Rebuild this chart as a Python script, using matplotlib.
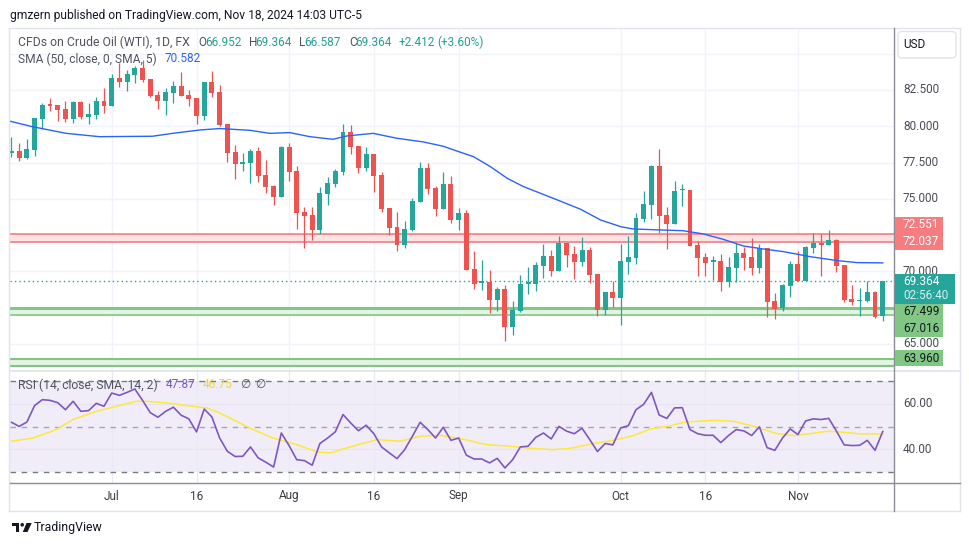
import numpy as np
import matplotlib
matplotlib.use("Agg")
import matplotlib.pyplot as plt
from matplotlib.transforms import Affine2D, blended_transform_factory
from matplotlib.patches import Rectangle, FancyBboxPatch, Polygon, Circle

# ---------------- data ----------------
start_date = "2024-06-12"
opens = [78.14, 78.32, 77.84, 78.37, 80.50, 81.47, 81.47, 81.17, 80.53, 81.67,
         80.66, 80.80, 81.74, 81.42, 83.33, 83.07, 83.56, 84.02, 83.26, 82.16,
         81.77, 82.32, 82.78, 82.16, 81.95, 80.73, 83.05, 82.36, 80.16, 78.21,
         77.43, 77.45, 78.30, 76.64, 75.88, 75.15, 78.57, 76.92, 74.07, 73.89,
         72.85, 75.33, 76.02, 76.87, 79.61, 78.64, 77.12, 78.09, 76.64, 74.37,
         73.06, 71.82, 72.85, 74.81, 77.12, 75.75, 74.30, 76.02, 73.54, 74.02,
         70.16, 69.22, 69.29, 68.03, 68.78, 66.17, 67.27, 69.15, 69.13, 70.37,
         71.06, 70.03, 71.96, 71.20, 70.65, 71.47, 69.82, 67.34, 68.58, 68.17,
         70.65, 70.92, 73.61, 74.57, 77.26, 73.89, 73.26, 75.58, 75.61, 71.82,
         70.99, 70.67, 70.72, 69.27, 70.23, 71.27, 70.99, 70.23, 71.61, 67.96,
         67.48, 68.99, 70.51, 69.34, 71.61, 71.96, 71.82, 72.16, 70.44, 68.10,
         67.96, 67.96, 68.58, 66.952]
highs = [79.28, 78.83, 79.12, 80.59, 81.58, 81.93, 81.47, 81.74, 81.74, 81.74,
         81.60, 82.02, 82.66, 83.60, 84.36, 83.86, 84.17, 84.59, 83.26, 82.43,
         82.62, 83.12, 83.72, 82.50, 81.95, 83.05, 83.83, 82.84, 80.16, 78.71,
         78.14, 78.43, 78.60, 77.68, 75.95, 78.64, 78.87, 77.26, 74.46, 74.46,
         75.84, 76.53, 77.06, 80.16, 80.09, 78.64, 78.57, 78.09, 76.87, 74.37,
         74.11, 73.47, 75.06, 77.54, 77.47, 75.86, 76.85, 76.57, 74.37, 74.25,
         71.40, 70.78, 70.09, 68.95, 69.06, 67.96, 69.75, 70.30, 70.65, 71.89,
         71.47, 72.44, 71.96, 71.75, 72.37, 71.68, 69.82, 68.58, 69.34, 71.89,
         72.44, 74.02, 75.54, 77.33, 78.43, 74.44, 76.23, 76.02, 75.61, 72.09,
         71.27, 71.06, 71.20, 70.99, 71.96, 71.68, 72.30, 71.89, 71.61, 68.51,
         69.13, 70.71, 71.40, 71.75, 72.64, 72.58, 72.85, 72.23, 70.44, 69.06,
         68.85, 69.34, 68.65, 69.364]
lows = [77.86, 77.63, 77.72, 77.95, 79.79, 81.05, 80.39, 80.27, 80.25, 80.48,
        80.18, 80.53, 80.94, 81.42, 82.73, 82.45, 83.01, 83.05, 82.04, 81.19,
        80.78, 81.63, 82.11, 81.40, 80.18, 80.43, 82.04, 80.04, 77.56, 76.39,
        76.94, 76.07, 76.18, 75.38, 74.57, 75.15, 76.25, 72.92, 71.63, 72.16,
        72.58, 74.57, 75.84, 76.64, 78.09, 76.78, 76.94, 75.49, 74.09, 72.51,
        71.43, 71.59, 72.76, 74.81, 75.33, 73.82, 74.30, 73.36, 72.85, 70.09,
        68.81, 68.72, 67.13, 67.27, 65.20, 65.61, 67.20, 68.44, 68.65, 69.54,
        69.68, 70.03, 70.30, 69.47, 70.37, 69.20, 66.92, 66.99, 67.54, 66.30,
        69.82, 70.51, 73.40, 73.61, 72.64, 71.54, 73.26, 74.50, 71.75, 69.68,
        69.68, 69.40, 68.65, 68.92, 69.27, 70.09, 69.75, 69.89, 66.86, 66.72,
        67.27, 68.23, 69.34, 69.34, 71.27, 69.68, 71.82, 69.96, 67.89, 67.68,
        66.92, 67.89, 66.79, 66.587]
closes = [78.32, 77.84, 78.43, 80.55, 81.47, 81.42, 81.12, 80.53, 81.67, 80.64,
          80.85, 81.74, 81.42, 83.33, 83.07, 83.60, 84.02, 83.19, 82.11, 81.77,
          82.36, 82.78, 82.11, 81.90, 80.73, 83.05, 82.32, 80.09, 78.18, 77.42,
          77.45, 78.30, 76.60, 75.84, 75.15, 78.57, 76.87, 74.05, 73.82, 72.85,
          75.40, 76.09, 76.92, 79.61, 78.60, 77.12, 78.09, 76.60, 74.28, 73.01,
          71.82, 72.92, 74.85, 77.12, 75.68, 74.30, 76.02, 73.56, 74.02, 70.09,
          69.15, 69.26, 68.03, 68.78, 66.17, 67.34, 69.13, 69.19, 70.44, 71.06,
          70.03, 71.96, 71.13, 70.65, 71.47, 69.75, 67.34, 68.58, 68.17, 70.71,
          70.99, 73.68, 74.64, 77.26, 73.82, 73.26, 75.54, 75.61, 71.75, 70.92,
          70.58, 70.70, 69.27, 70.30, 71.27, 70.92, 70.23, 71.61, 67.89, 67.41,
          69.06, 70.51, 69.34, 71.68, 71.96, 71.82, 72.16, 70.37, 68.03, 67.89,
          67.99, 68.58, 66.86, 69.364]

sma_x = [-0.3, 2.7, 7.1, 11.4, 18.3, 20.9, 24.4, 27.0, 30.9, 33.5, 36.1, 38.7,
         41.7, 43.5, 46.9, 50.0, 53.4, 56.0, 58.6, 59.9, 62.1, 64.3, 66.4, 68.6,
         70.8, 73.8, 76.4, 79.0, 80.6, 84.2, 87.1, 89.7, 92.3, 94.9, 97.5, 100.1,
         103.6, 107.1, 109.7, 113.0]
sma_v = [80.36, 79.97, 79.51, 79.28, 79.31, 79.51, 79.74, 79.84, 79.72, 79.51,
         79.56, 79.28, 79.10, 79.33, 79.51, 79.17, 78.92, 78.62, 78.14, 77.91,
         77.22, 76.41, 75.84, 75.38, 74.92, 74.28, 73.54, 73.08, 72.92, 72.85,
         72.80, 72.58, 72.21, 71.75, 71.54, 71.36, 71.01, 70.74, 70.60, 70.582]

rsi = [51.9, 50.1, 52.0, 59.2, 61.8, 61.5, 60.5, 57.4, 61.1, 56.7,
       57.0, 60.2, 58.9, 64.7, 63.7, 65.0, 66.5, 61.5, 56.1, 54.1,
       56.7, 58.5, 55.0, 53.4, 47.7, 57.7, 54.2, 45.0, 39.2, 36.9,
       37.0, 41.1, 36.3, 34.4, 32.3, 47.2, 41.7, 35.5, 35.1, 33.1,
       42.6, 45.0, 47.7, 55.3, 51.6, 48.2, 50.6, 46.9, 41.1, 38.5,
       36.0, 39.9, 45.8, 51.9, 48.7, 45.0, 49.7, 44.0, 45.0, 37.5,
       35.8, 35.8, 34.1, 36.1, 31.9, 35.5, 41.1, 41.4, 45.3, 47.2,
       44.6, 50.1, 48.0, 46.9, 49.3, 44.3, 39.1, 42.6, 42.0, 49.4,
       50.4, 57.4, 59.8, 65.0, 55.1, 53.6, 58.2, 58.3, 48.7, 46.9,
       46.2, 46.2, 43.0, 46.1, 48.7, 48.1, 46.1, 49.9, 40.8, 39.6,
       45.0, 49.0, 46.5, 52.5, 53.4, 53.1, 53.6, 48.0, 42.0, 41.7,
       41.8, 44.0, 39.6, 47.87]
rsi_sma_x = [0, 2.8, 5.8, 8, 11, 13.6, 16.2, 17.5, 21, 22.7, 25.3, 27, 30.9,
             33.9, 37.4, 39.6, 41.3, 43.9, 47.4, 50.4, 53, 55.6, 58.2, 61.6,
             64.7, 67.7, 70.3, 72.5, 75.5, 78.1, 80.7, 82.9, 85.5, 87.2, 91.1,
             93.7, 96.3, 99.3, 101.5, 103.6, 105.8, 108, 110.1, 113]
rsi_sma_v = [43.6, 45.0, 48.7, 53.1, 56.7, 58.9, 61.1, 61.1, 60.1, 59.2, 58.2,
             56.0, 49.4, 45.0, 41.7, 38.9, 38.5, 41.1, 44.3, 43.6, 45.8, 46.2,
             44.8, 42.1, 41.4, 40.4, 39.9, 40.5, 42.6, 44.0, 46.1, 49.0, 50.4,
             51.9, 52.8, 52.3, 50.1, 46.9, 46.1, 46.9, 48.0, 47.5, 46.8, 46.75]

tick_dates = ["2024-07-01", "2024-07-16", "2024-08-01", "2024-08-16",
              "2024-09-02", "2024-10-01", "2024-10-16", "2024-11-01"]
tick_labels = ["Jul", "16", "Aug", "16", "Sep", "Oct", "16", "Nov"]
price_ticks = [65.0, 67.5, 70.0, 72.5, 75.0, 77.5, 80.0, 82.5, 85.0]
rsi_ticks = [40.0, 60.0]
red_band = (72.037, 72.551)
green_band = (67.016, 67.499)
low_band = (63.46, 63.96)
last_close = 69.364
timer_text = "02:56:40"

# ---------------- figure ----------------
W, H = 970, 545
plt.rcParams["font.family"] = ["Roboto", "DejaVu Sans"]
fig = plt.figure(figsize=(W / 100, H / 100), dpi=100)
fig.patch.set_facecolor("white")
pix = Affine2D().scale(1 / W, -1 / H).translate(0, 1) + fig.transFigure

UP, DOWN = "#26a69a", "#ef5350"
GRID = "#f0f3fa"
TXT = "#131722"
GRAY = "#50535e"

ax = fig.add_axes([10 / W, 1 - 370 / H, 884 / W, 342 / H])
ax2 = fig.add_axes([10 / W, 1 - 483 / H, 884 / W, 113 / H])
for a in (ax, ax2):
    a.set_xlim(-0.19, 114.46)
    a.set_xticks([])
    a.set_yticks([])
    for s in a.spines.values():
        s.set_visible(False)
    a.patch.set_alpha(0)
ax.set_ylim(63.2, 86.77)
ax2.set_ylim(25.3, 74.8)

n = len(closes)
dates = np.busday_offset(np.datetime64(start_date), np.arange(n), roll="forward")
tick_pos = [int(np.searchsorted(dates, np.datetime64(d))) for d in tick_dates]

# grid
for p in price_ticks:
    ax.axhline(p, color=GRID, lw=1, zorder=0)
for t in tick_pos:
    ax.axvline(t, color=GRID, lw=1, zorder=0)

# bands
ax.axhspan(*red_band, color="#fde3e4", lw=0, zorder=1)
for v in red_band:
    ax.axhline(v, color="#f77c80", lw=1.2, zorder=1.5)
ax.axhspan(*green_band, color="#e3f3e4", lw=0, zorder=1)
ax.axhline(green_band[1], color="#81c784", lw=2.2, zorder=1.5)
ax.axhline(green_band[0], color="#81c784", lw=1.2, zorder=1.5)
ax.axhspan(*low_band, color="#e3f3e4", lw=0, zorder=1)
for v in low_band:
    ax.axhline(v, color="#81c784", lw=1.5, zorder=1.5)

# last price dotted line
ax.axhline(last_close, color=UP, lw=1, ls=(0, (1, 2.2)), zorder=2)

# candles
x = np.arange(n)
o, hi, lo, c = map(np.array, (opens, highs, lows, closes))
up = c >= o
cols = np.where(up, UP, DOWN)
ax.vlines(x, lo, hi, colors=cols, lw=0.9, zorder=3)
body = np.maximum(np.abs(c - o), 0.09)
ax.bar(x, body, bottom=np.minimum(o, c), width=0.64, color=cols, lw=0, zorder=4)

# SMA
ax.plot(sma_x, sma_v, color="#2962ff", lw=1.0, zorder=5)

# RSI pane
ax2.axhspan(30, 70, color="#7e57c2", alpha=0.1, lw=0, zorder=0)
for r in rsi_ticks:
    ax2.axhline(r, color="#e8e3f4", lw=1, zorder=0.5)
for t in tick_pos:
    ax2.axvline(t, color="#ebe7f5", lw=1, zorder=0.5)
ax2.axhline(70, color="#787b86", lw=1, ls=(0, (4, 4)), zorder=1)
ax2.axhline(30, color="#787b86", lw=1, ls=(0, (4, 4)), zorder=1)
ax2.axhline(50, color="#a3a6af", lw=1, ls=(0, (4, 4)), zorder=1)
ax2.plot(rsi_sma_x, rsi_sma_v, color="#ffe83b", lw=1.1, zorder=2)
ax2.plot(x, rsi, color="#7e57c2", lw=1.2, zorder=3)

# ---------------- frame / separators ----------------
def pline(x0, y0, x1, y1, color, lw=1, z=10):
    fig.add_artist(plt.Line2D([x0, x1], [y0, y1], color=color, lw=lw,
                              transform=pix, zorder=z))

pline(9.5, 27.5, 960.5, 27.5, "#e0e3eb")
pline(9.5, 27.5, 9.5, 510.5, "#e0e3eb")
pline(960.5, 27.5, 960.5, 510.5, "#e0e3eb")
pline(9.5, 510.5, 960.5, 510.5, "#e0e3eb")
pline(10, 370.5, 960, 370.5, "#e0e3eb", lw=1.2)
pline(10, 483, 894.5, 483, "#8a8d96", lw=1)
pline(894.5, 483, 960, 483, "#8a8d96", lw=1)
pline(894.5, 27.5, 894.5, 510.5, "#8a8d96", lw=1)

# ---------------- text helpers ----------------
renderer = fig.canvas.get_renderer()


def fit(txt, width):
    t = fig.text(0, 0, txt, fontsize=10)
    w = t.get_window_extent(renderer).width
    t.remove()
    return 10 * width / w


def ptext(px, py, s, color=TXT, size=8.8, ha="left", z=12, **kw):
    return fig.text(px, py, s, color=color, fontsize=size, ha=ha, va="center",
                    transform=pix, zorder=z, **kw)


def level_y(v):
    return H - ax.transData.transform((0, v))[1]


FS = fit("82.500", 36)

# header
hdr = "gmzern published on TradingView.com, Nov 18, 2024 14:03 UTC-5"
ptext(10, 15, hdr, TXT, fit(hdr, 352))

TEAL = "#22a094"
ptext(18, 42, "CFDs on Crude Oil (WTI), 1D, FX", GRAY, fit("CFDs on Crude Oil (WTI), 1D, FX", 172))
for xx, s, col in [(198, "O", GRAY), (205, "66.952", TEAL), (249, "H", GRAY),
                   (255.5, "69.364", TEAL), (299, "L", GRAY), (304, "66.587", TEAL),
                   (349, "C", GRAY), (355, "69.364", TEAL), (399, "+2.412", TEAL),
                   (437, "(+3.60%)", TEAL)]:
    ptext(xx, 42, s, col, FS)
ptext(18, 59, "SMA (50, close, 0, SMA, 5)", GRAY, fit("SMA (50, close, 0, SMA, 5)", 139))
ptext(165, 59, "70.582", "#2962ff", FS)

ptext(18, 385, "RSI (14, close, SMA, 14, 2)", GRAY, fit("RSI (14, close, SMA, 14, 2)", 140))
ptext(166, 385, "47.87", "#7e57c2", FS)
ptext(203, 385, "46.75", "#f0d43a", FS)
ptext(240, 385, "\u2205", GRAY, FS)
ptext(255, 385, "\u2205", GRAY, FS)

# ---------------- label boxes on the price scale ----------------
boxes = []


def label_box(centers, texts, fc, tcolors, width):
    top = min(centers) - 8
    bot = max(centers) + 8
    boxes.append((top, bot))
    fig.add_artist(Rectangle((895, top), width, bot - top, transform=pix,
                             fc=fc, ec="none", zorder=13))
    for cy, s, tc in zip(centers, texts, tcolors):
        ptext(903, cy, s, tc, FS, z=14)


# USD box
fig.add_artist(FancyBboxPatch((898, 31.5), 58, 26.5, boxstyle="round,pad=0,rounding_size=4",
                              transform=pix, fc="white", ec="#e0e3eb", lw=1, zorder=13))
ptext(903, 44.5, "USD", TXT, FS, z=14)
boxes.append((31.5, 58))

y551 = level_y(red_band[1]) - 9.4
y037 = level_y(red_band[0])
label_box([y551, y037], ["72.551", "72.037"], "#f77c80", ["white", "white"], 48)
yl = level_y(last_close) + 1
label_box([yl, yl + 14], ["69.364", timer_text], UP, ["white", "#d5efec"], 60)
y499 = level_y(green_band[1]) + 4
label_box([y499, y499 + 17.3], ["67.499", "67.016"], "#81c784", [TXT, TXT], 48)
label_box([level_y(low_band[1]) - 0.7], ["63.960"], "#81c784", [TXT], 48)

# price axis labels (those hidden behind a box are not drawn)
for p in price_ticks:
    yy = level_y(p)
    if any(t - 2 <= yy <= b + 2 for t, b in boxes):
        continue
    ptext(903, yy, f"{p:.3f}", "#4a4d57", FS, z=11)
for r in rsi_ticks:
    yy = H - ax2.transData.transform((0, r))[1]
    ptext(903, yy, f"{r:.2f}", "#4a4d57", FS, z=11)

# date labels
xt = blended_transform_factory(ax2.transData, pix)
for t, lab in zip(tick_pos, tick_labels):
    fig.text(t, 496, lab, transform=xt, ha="center", va="center",
             fontsize=FS, color="#3a3d46")

# bottom logo
fig.add_artist(Polygon([(11.7, 523), (19.5, 523), (19.5, 532), (15.8, 532), (15.8, 526.3), (11.7, 526.3)],
                       closed=True, transform=pix, fc=TXT, ec="none"))
fig.add_artist(Circle((22.2, 524.8), 1.8, transform=pix, fc=TXT, ec="none"))
fig.add_artist(Polygon([(26.5, 523), (31.7, 523), (27.5, 532), (22.8, 532)],
                       closed=True, transform=pix, fc=TXT, ec="none"))
ptext(34, 527.5, "TradingView", TXT, fit("TradingView", 69))

fig.savefig("out.png", dpi=100)
